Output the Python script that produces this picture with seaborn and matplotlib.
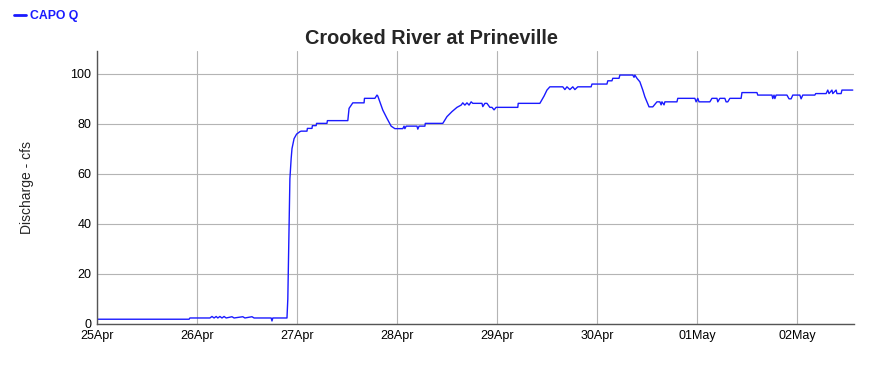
import matplotlib
matplotlib.use("Agg")
import matplotlib.pyplot as plt
import matplotlib.dates as mdates
import numpy as np
import pandas as pd
import seaborn as sns

# hours since 25 Apr 00:00 and discharge (cfs)
HOURS = [
    0, 22.1, 22.3, 27.1, 27.6, 28.1, 28.6, 29.0, 29.5, 30.0, 30.5, 31.0,
    32.4, 32.9, 35.0, 35.5, 37.2, 37.7, 41.8, 42.0, 42.2, 45.6, 45.8, 46.1,
    46.3, 46.6, 46.8, 47.3, 47.9, 48.7, 49.0, 50.4, 50.5, 51.6, 51.7, 52.6,
    52.7, 55.2, 55.3, 60.2, 60.5, 61.4, 64.1, 64.2, 66.7, 67.2, 67.4, 67.9,
    68.6, 69.6, 70.6, 71.5, 73.4, 73.7, 73.9, 74.2, 76.8, 77.0, 77.3, 78.7,
    78.8, 83.0, 84.0, 85.2, 86.4, 87.4, 87.8, 88.3, 88.8, 89.3, 89.8, 90.2,
    92.4, 92.6, 93.1, 93.6, 94.3, 94.8, 95.3, 95.8, 101.0, 101.1, 106.3,
    107.3, 108.0, 108.7, 111.8, 112.3, 112.8, 113.5, 114.2, 114.7, 115.4,
    118.6, 118.8, 122.4, 122.6, 123.6, 123.8, 125.3, 125.5, 128.6, 128.9,
    129.1, 129.6, 130.3, 131.0, 131.5, 132.0, 132.5, 133.4, 133.9, 134.4,
    135.1, 135.4, 135.6, 136.1, 136.3, 139.2, 139.4, 143.5, 143.8, 144.2,
    144.5, 147.1, 147.6, 148.8, 149.0, 149.5, 150.7, 151.0, 151.4, 151.9,
    154.6, 154.8, 158.4, 158.6, 162.0, 162.2, 162.5, 162.7, 163.0, 165.6,
    166.1, 166.6, 167.0, 168.7, 169.0, 169.4, 172.3, 172.5, 175.0, 175.4,
    175.7, 176.4, 176.6, 177.4, 177.6, 178.6, 178.8, 181.4,
]
DISCHARGE = [
    1.9, 1.9, 2.4, 2.4, 3.0, 2.4, 3.0, 2.4, 3.0, 2.4, 3.0, 2.4,
    2.9, 2.4, 2.9, 2.4, 2.9, 2.4, 2.4, 1.2, 2.4, 2.4, 10.0, 40.0,
    58.0, 66.0, 70.0, 74.0, 75.8, 76.8, 77.0, 77.0, 78.1, 78.1, 79.2, 79.2,
    80.1, 80.1, 81.2, 81.2, 86.1, 88.3, 88.3, 90.1, 90.1, 91.4, 91.0, 88.7,
    85.4, 82.1, 79.0, 78.0, 78.0, 79.0, 78.0, 79.0, 79.0, 77.8, 79.0, 79.0,
    80.1, 80.1, 82.8, 84.8, 86.5, 87.4, 88.3, 87.4, 88.3, 87.4, 88.7, 88.1,
    88.1, 86.8, 88.1, 88.1, 86.5, 86.5, 85.5, 86.5, 86.5, 88.1, 88.1,
    91.0, 93.4, 94.7, 94.7, 93.6, 94.7, 93.6, 94.7, 93.6, 94.7,
    94.7, 95.8, 95.8, 97.1, 97.1, 98.1, 98.1, 99.4, 99.4, 98.5,
    99.4, 98.1, 96.7, 93.4, 90.7, 88.7, 86.7, 86.7, 87.7, 88.7,
    88.7, 87.5, 88.7, 87.5, 88.7, 88.7, 90.1, 90.1, 88.7, 90.1,
    88.7, 88.7, 90.1, 90.1, 88.7, 90.1, 90.1, 88.7, 88.7, 90.1,
    90.1, 92.4, 92.4, 91.4, 91.4, 90.0, 91.4, 90.0, 91.4, 91.4,
    89.9, 89.9, 91.4, 91.4, 89.9, 91.4, 91.4, 92.0, 92.0, 93.4,
    92.0, 93.4, 92.0, 93.4, 92.0, 92.0, 93.4, 93.4,
]
Y_TICKS = [0, 20, 40, 60, 80, 100]

start = pd.Timestamp("2024-04-25 00:00")
df = pd.DataFrame({
    "time": start + pd.to_timedelta(HOURS, unit="h"),
    "q": DISCHARGE,
})

sns.set_style("white")
plt.rcParams["font.family"] = ["Liberation Sans", "DejaVu Sans"]

fig = plt.figure(figsize=(8.77, 3.68), dpi=100)
ax = fig.add_axes([0.1106, 0.1196, 0.8632, 0.7418])

sns.lineplot(data=df, x="time", y="q", color="#1a1aff", lw=1.0, ax=ax,
             label="CAPO Q", legend=False)

ax.set_xlim(start, start + pd.Timedelta(hours=181.7))
ax.set_ylim(0, 109)
ax.set_yticks(Y_TICKS)
ax.xaxis.set_major_locator(mdates.DayLocator())
ax.xaxis.set_major_formatter(mdates.DateFormatter("%d%b"))

ax.grid(True, color="#b4b4b4", lw=0.8)
for side in ("top", "right"):
    ax.spines[side].set_visible(False)
for side in ("left", "bottom"):
    ax.spines[side].set_color("#555555")
    ax.spines[side].set_linewidth(1.0)
ax.tick_params(axis="both", length=0, labelsize=9, colors="black", pad=4)
ax.set_xlabel("")
ax.set_ylabel("Discharge - cfs", fontsize=10, labelpad=26)

fig.text(0.4915, 0.895, "Crooked River at Prineville", ha="center",
         va="center", fontsize=14.3, fontweight="bold")

handles, labels = ax.get_legend_handles_labels()
leg = fig.legend(handles, labels, loc="upper left",
                 bbox_to_anchor=(0.006, 0.995),
                 frameon=False, handlelength=1.0, handletextpad=0.3,
                 borderaxespad=0.3, prop={"size": 8.8, "weight": "bold"})
for t in leg.get_texts():
    t.set_color("#1a1aff")
for h in leg.get_lines():
    h.set_linewidth(2)

fig.savefig("out.png", dpi=100)
